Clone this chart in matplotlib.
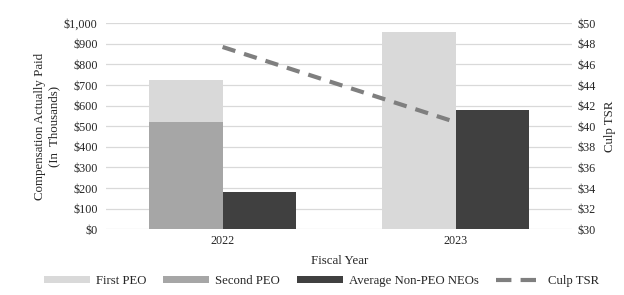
import matplotlib

matplotlib.use("Agg")
import matplotlib.pyplot as plt
import numpy as np
from matplotlib.lines import Line2D
from matplotlib.patches import Patch

years = ["2022", "2023"]
second_peo = [520, 0]
first_peo = [205, 960]   # 2022 stacked on top of Second PEO
avg_non_peo = [180, 580]
culp_tsr = [47.7, 40.4]

C_FIRST = "#d9d9d9"
C_SECOND = "#a6a6a6"
C_NEO = "#404040"
C_TSR = "#7f7f7f"
TXT = "#262626"

plt.rcParams["font.family"] = ["Liberation Serif", "DejaVu Serif"]

fig = plt.figure(figsize=(6.24, 2.95), dpi=100)
ax = fig.add_axes([0.170, 0.223, 0.747, 0.698])

x = np.arange(len(years))
w = 0.315

ax.bar(x - w / 2, second_peo, w, color=C_SECOND, zorder=2)
ax.bar(x - w / 2, first_peo, w, bottom=second_peo, color=C_FIRST, zorder=2)
ax.bar(x + w / 2, avg_non_peo, w, color=C_NEO, zorder=2)

ax.set_xlim(-0.5, 1.5)
ax.set_ylim(0, 1000)
ax.set_yticks(np.arange(0, 1001, 100))
ax.set_yticklabels([f"${v:,}" for v in range(0, 1001, 100)])
ax.set_xticks(x)
ax.set_xticklabels(years)
ax.grid(axis="y", color="#d9d9d9", linewidth=0.9, zorder=0)
ax.set_axisbelow(True)
for s in ax.spines.values():
    s.set_visible(False)
ax.tick_params(length=0, labelsize=8.7, colors=TXT, pad=6)
ax.tick_params(axis="x", pad=4)
ax.set_ylabel("Compensation Actually Paid\n(In  Thousands)", fontsize=9.3, color=TXT,
              labelpad=3, linespacing=1.25)
ax.set_xlabel("Fiscal Year", fontsize=9.3, color=TXT, labelpad=6)

ax2 = ax.twinx()
ax2.plot(x, culp_tsr, color=C_TSR, linewidth=3, dashes=(3.2, 2.2), zorder=3)
ax2.set_ylim(30, 50)
ax2.set_yticks(np.arange(30, 51, 2))
ax2.set_yticklabels([f"${v}" for v in range(30, 51, 2)])
for s in ax2.spines.values():
    s.set_visible(False)
ax2.tick_params(length=0, labelsize=8.7, colors=TXT, pad=4)
ax2.set_ylabel("Culp TSR", fontsize=9.3, color=TXT, labelpad=6)

handles = [
    Patch(facecolor=C_FIRST, label="First PEO"),
    Patch(facecolor=C_SECOND, label="Second PEO"),
    Patch(facecolor=C_NEO, label="Average Non-PEO NEOs"),
    Line2D([0], [0], color=C_TSR, linewidth=3, dashes=(3.7, 2.2), label="Culp TSR"),
]
fig.legend(handles=handles, loc="center", bbox_to_anchor=(0.515, 0.047), ncol=4,
           frameon=False, fontsize=9.2, handlelength=3.6, handleheight=0.45,
           columnspacing=1.3, handletextpad=0.5, labelcolor=TXT)

fig.savefig("out.png", dpi=100)
